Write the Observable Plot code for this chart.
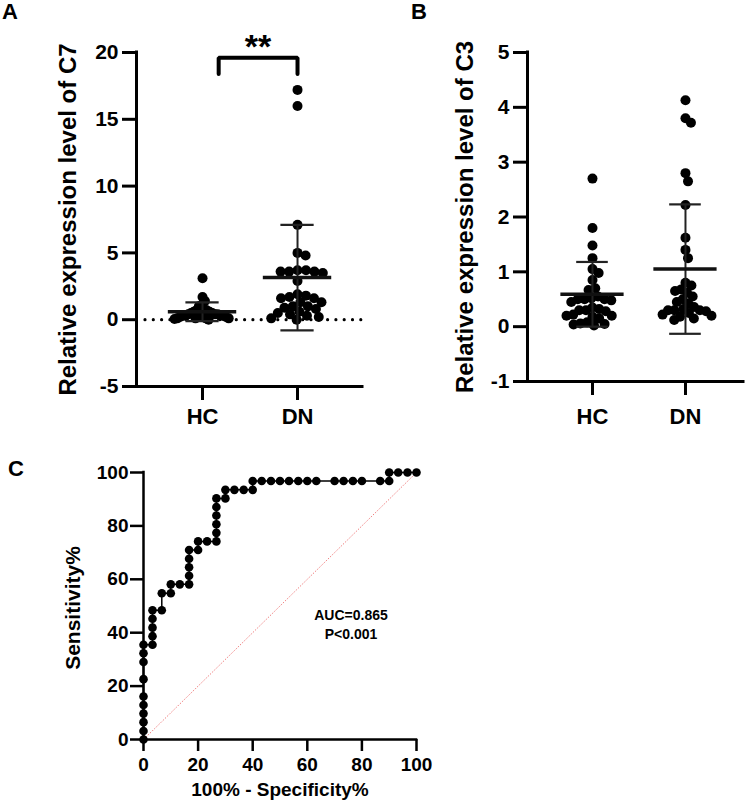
<!DOCTYPE html>
<html><head><meta charset="utf-8">
<script src="https://cdn.jsdelivr.net/npm/d3@7"></script>
<script src="https://cdn.jsdelivr.net/npm/@observablehq/plot@0.6"></script>
<style>
body{margin:0;background:#fff;}
#wrap{position:relative;width:750px;height:805px;font-family:"Liberation Sans",Arial,sans-serif;background:#fff;overflow:hidden;}
.panel{position:absolute;}
.letter{position:absolute;font-weight:bold;font-size:22px;line-height:1.1;z-index:2;}
</style></head><body>
<div id="wrap">
<div class="panel" id="pA" style="left:0;top:0"></div>
<div class="panel" id="pB" style="left:375px;top:0"></div>
<div class="panel" id="pC" style="left:0;top:440px"></div>
<div class="letter" style="left:2px;top:0px">A</div>
<div class="letter" style="left:411px;top:0px">B</div>
<div class="letter" style="left:8px;top:457px">C</div>
</div>
<script>
// ---------- data ----------
const groups = ["HC", "DN"];

// Panel A: relative expression level of C7
const c7_HC = [3.1, 1.7, 1.4, 1.1, 1.0, 0.8, 0.7, 0.7, 0.6, 0.6, 0.5, 0.5, 0.5, 0.4, 0.4, 0.4, 0.3, 0.3, 0.3, 0.3, 0.2, 0.2, 0.2, 0.2, 0.1, 0.1, 0.1, 0.1, 0.05, 0.0];
const c7_DN = [17.2, 16.0, 7.1, 5.0, 4.8, 3.7, 3.6, 3.5, 3.6, 3.7, 3.6, 2.9, 1.9, 1.8, 1.7, 1.6, 1.6, 1.3, 1.3, 1.0, 1.0, 0.9, 0.8, 0.6, 0.5, 0.4, 0.3, 0.2, 0.1, 0.0];
const c7_mean = [0.6, 3.15];
const c7_sdLow = [-0.1, -0.8];
const c7_sdHigh = [1.3, 7.1];
const c7_ticks = [-5, 0, 5, 10, 15, 20];
const c7_sig = "**";

// Panel B: relative expression level of C3
const c3_HC = [2.7, 1.8, 1.48, 1.25, 1.05, 0.98, 0.85, 0.7, 0.67, 0.55, 0.52, 0.5, 0.5, 0.48, 0.5, 0.45, 0.35, 0.3, 0.3, 0.32, 0.28, 0.2, 0.18, 0.2, 0.15, 0.22, 0.08, 0.05, 0.02, 0.06, 0.04];
const c3_DN = [4.13, 3.8, 3.72, 2.8, 2.65, 2.22, 1.62, 1.4, 1.25, 0.8, 0.75, 0.68, 0.65, 0.62, 0.55, 0.5, 0.45, 0.42, 0.36, 0.32, 0.3, 0.3, 0.28, 0.25, 0.22, 0.2, 0.18, 0.15, 0.12, 0.3];
const c3_mean = [0.59, 1.05];
const c3_sdLow = [0.0, -0.13];
const c3_sdHigh = [1.18, 2.23];
const c3_ticks = [-1, 0, 1, 2, 3, 4, 5];

// Panel C: ROC curve
const roc_fpr = [0,0,0,0,0,0,0,0,0,0, 3.3,3.3,3.3,3.3,3.3, 6.7,6.7, 10,10, 13.3, 16.7,16.7,16.7,16.7,16.7, 20,20, 23.3, 26.7,26.7,26.7,26.7,26.7,26.7, 30,30, 33.3,36.7,40,40, 43.3,46.7,50,53.3,56.7,60,63.3, 70,73.3,76.7,80, 86.7,90,90,93.3,96.7,100];
const roc_tpr = [0,3.2,6.5,9.7,12.9,16.1,22.6,29.0,32.3,35.5, 35.5,38.7,41.9,45.2,48.4, 48.4,54.8, 54.8,58.1, 58.1, 58.1,61.3,64.5,67.7,71.0, 71.0,74.2, 74.2, 74.2,77.4,80.6,83.9,87.1,90.3, 90.3,93.5, 93.5,93.5,93.5,96.8, 96.8,96.8,96.8,96.8,96.8,96.8,96.8, 96.8,96.8,96.8,96.8, 96.8,96.8,100,100,100,100];
const roc_ticks = [0, 20, 40, 60, 80, 100];
const roc_text = "AUC=0.865\nP<0.001";

const FONT = "Liberation Sans, Arial, sans-serif";

// deterministic beeswarm (pixel space), compressed to a maximum half-width; returns x in data units
function swarm(values, pos, kx, ky, sep, maxOff) {
  const placed = [];
  const order = values.slice().sort((a, b) => b - a);
  for (const v of order) {
    const py = v * ky;
    const cands = [0];
    for (const p of placed) {
      const dy = py - p.py;
      if (Math.abs(dy) < sep) {
        const dx = Math.sqrt(sep * sep - dy * dy);
        cands.push(p.px + dx, p.px - dx);
      }
    }
    cands.sort((a, b) => Math.abs(a) - Math.abs(b));
    let best = 0;
    for (const c of cands) {
      if (placed.every(p => (p.px - c) ** 2 + (p.py - py) ** 2 >= sep * sep - 0.01)) { best = c; break; }
    }
    placed.push({px: best, py, v});
  }
  const m = d3.max(placed, p => Math.abs(p.px)) || 1;
  const f = m > maxOff ? maxOff / m : 1;
  return placed.map(p => ({x: pos + p.px * f / kx, v: p.v}));
}

function scatterPanel(cfg) {
  const {W, H, ml, mr, mt, mb, xDom, yDom, series, mean, lo, hi, ticks, title, titleDx, xlabPad, halfMean, halfCap, sep} = cfg;
  const kx = (W - ml - mr) / (xDom[1] - xDom[0]);
  const ky = (H - mt - mb) / (yDom[1] - yDom[0]);
  const pts = [];
  series.forEach((vals, i) => pts.push(...swarm(vals, i + 1, kx, ky, sep, cfg.maxOff[i])));
  const summ = groups.map((g, i) => ({pos: i + 1, mean: mean[i], lo: lo[i], hi: hi[i]}));
  const marks = [
    Plot.ruleX([xDom[0]], {y1: yDom[0], y2: yDom[1], strokeWidth: 3, strokeLinecap: "square"}),
    Plot.ruleY([yDom[0]], {x1: xDom[0], x2: xDom[1], strokeWidth: 3, strokeLinecap: "square"}),
    Plot.axisY({ticks, tickFormat: d => String(d), tickSize: 14, tickPadding: 4, strokeWidth: 3, fontSize: 21, fontWeight: "bold", label: null}),
    Plot.axisX({ticks: groups.map((g, i) => i + 1), tickFormat: i => groups[i - 1], tickSize: 14, tickPadding: xlabPad, strokeWidth: 3, fontSize: 22, fontWeight: "bold", label: null}),
    Plot.text([title], {frameAnchor: "left", textAnchor: "middle", rotate: -90, dx: titleDx, fontSize: 24, fontWeight: "bold"}),
    ...(cfg.extra ? cfg.extra(kx, ky) : []),
    Plot.dot(pts, {x: "x", y: "v", r: 5, fill: "black", stroke: null}),
    Plot.ruleX(summ, {x: "pos", y1: "lo", y2: "hi", stroke: "#222", strokeWidth: 2}),
    Plot.ruleY(summ, {y: "hi", x1: d => d.pos - halfCap, x2: d => d.pos + halfCap, stroke: "#222", strokeWidth: 2.2}),
    Plot.ruleY(summ, {y: "lo", x1: d => d.pos - halfCap, x2: d => d.pos + halfCap, stroke: "#222", strokeWidth: 2.2}),
    Plot.ruleY(summ, {y: "mean", x1: d => d.pos - halfMean, x2: d => d.pos + halfMean, stroke: "#111", strokeWidth: 3.5})
  ];
  return Plot.plot({
    width: W, height: H, marginLeft: ml, marginRight: mr, marginTop: mt, marginBottom: mb,
    x: {domain: xDom}, y: {domain: yDom},
    style: {fontFamily: FONT, color: "black", background: "white", overflow: "visible"},
    marks
  });
}

// Panel A
const bracket = {left: 1.17, right: 2, top: 19.6, leg: 18.4, star: 20.4};
const plotA = scatterPanel({
  W: 375, H: 430, ml: 136, mr: 13, mt: 52, mb: 44,
  xDom: [0.305, 2.684], yDom: [-5, 20],
  series: [c7_HC, c7_DN], mean: c7_mean, lo: c7_sdLow, hi: c7_sdHigh,
  ticks: c7_ticks, title: "Relative expression level of C7", titleDx: -68, xlabPad: 8,
  halfMean: 0.36, halfCap: 0.175, sep: 8.5, maxOff: [28, 28],
  extra: (kx, ky) => [
    Plot.ruleY([0], {x1: 0.305 + 9 / kx, x2: 2.684, strokeDasharray: "0,8.3", strokeLinecap: "round", strokeWidth: 3.2}),
    Plot.line([
      {x: bracket.left, y: bracket.leg}, {x: bracket.left, y: bracket.top},
      {x: bracket.right, y: bracket.top}, {x: bracket.right, y: bracket.leg}
    ], {x: "x", y: "y", strokeWidth: 4, strokeLinejoin: "miter"}),
    Plot.text([c7_sig], {x: (bracket.left + bracket.right) / 2, y: bracket.star, fontSize: 34, fontWeight: "bold"})
  ]
});
document.getElementById("pA").appendChild(plotA);

// Panel B
const plotB = scatterPanel({
  W: 375, H: 430, ml: 152, mr: 7, mt: 52, mb: 49,
  xDom: [0.301, 2.624], yDom: [-1, 5],
  series: [c3_HC, c3_DN], mean: c3_mean, lo: c3_sdLow, hi: c3_sdHigh,
  ticks: c3_ticks, title: "Relative expression level of C3", titleDx: -62, xlabPad: 13,
  halfMean: 0.34, halfCap: 0.17, sep: 9, maxOff: [26, 26]
});
document.getElementById("pB").appendChild(plotB);

// Panel C
const roc = roc_fpr.map((f, i) => ({fpr: f, tpr: roc_tpr[i]}));
const plotC = Plot.plot({
  width: 450, height: 365, marginLeft: 143, marginRight: 34, marginTop: 32, marginBottom: 66,
  x: {domain: [0, 100]}, y: {domain: [0, 100]},
  style: {fontFamily: FONT, color: "black", background: "white", overflow: "visible"},
  marks: [
    Plot.ruleX([0], {y1: 0, y2: 100, strokeWidth: 2.5, strokeLinecap: "square"}),
    Plot.ruleY([0], {x1: 0, x2: 100, strokeWidth: 2.5, strokeLinecap: "square"}),
    Plot.axisY({ticks: roc_ticks, tickFormat: d => String(d), tickSize: 13, tickPadding: 2, strokeWidth: 2.5, fontSize: 19, fontWeight: "bold", label: null}),
    Plot.axisX({ticks: roc_ticks, tickFormat: d => String(d), tickSize: 12, tickPadding: 6, strokeWidth: 2.5, fontSize: 19, fontWeight: "bold", label: null}),
    Plot.text(["Sensitivity%"], {frameAnchor: "left", textAnchor: "middle", rotate: -90, dx: -70, dy: 2, fontSize: 21, fontWeight: "bold"}),
    Plot.text(["100% - Specificity%"], {frameAnchor: "bottom", textAnchor: "middle", dy: 56, fontSize: 19, fontWeight: "bold"}),
    Plot.link([0], {x1: () => 0, y1: () => 0, x2: () => 100, y2: () => 100, stroke: "#f08080", strokeWidth: 1, strokeDasharray: "1.5,1.5"}),
    Plot.line(roc, {x: "fpr", y: "tpr", stroke: "black", strokeWidth: 1.5}),
    Plot.dot(roc, {x: "fpr", y: "tpr", r: 4.3, fill: "black", stroke: null}),
    Plot.text([roc_text], {x: 76, y: 43.6, fontSize: 14, fontWeight: "bold", lineHeight: 1.35})
  ]
});
document.getElementById("pC").appendChild(plotC);
</script>
</body></html>
